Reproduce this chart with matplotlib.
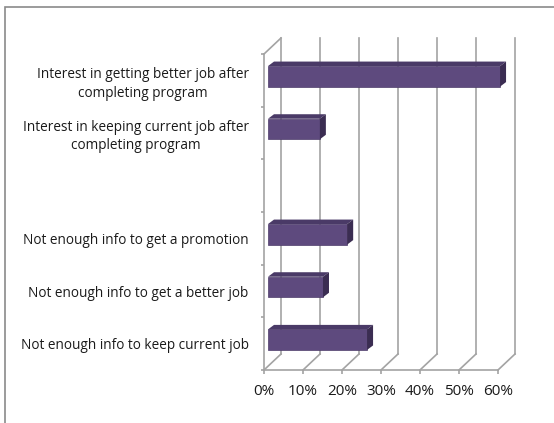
import numpy as np
import matplotlib
matplotlib.use("Agg")
from matplotlib import pyplot as plt
from matplotlib.patches import Polygon, Rectangle

plt.rcParams["font.family"] = ["Open Sans", "DejaVu Sans"]

# categories listed top to bottom, blank row kept as a spacer
categories = [
    "Interest in getting better job after\ncompleting program",
    "Interest in keeping current job after\ncompleting program",
    "",
    "Not enough info to get a promotion",
    "Not enough info to get a better job",
    "Not enough info to keep current job",
]
shares = [59.5, 13.3, np.nan, 20.3, 14.1, 25.4]
x_ticks = [0, 10, 20, 30, 40, 50, 60]
x_tick_labels = [f"{t}%" for t in x_ticks]

grid_col = "#a3a3a3"
front_col = "#5e4a7e"
top_col = "#4a3a67"
side_col = "#3b2d52"

W, H = 554, 423
fig = plt.figure(figsize=(W / 100, H / 100), dpi=100)

# front plane of the plot area, in pixels
left, right, top, bottom = 264, 498, 54, 370
ax = fig.add_axes([left / W, 1 - bottom / H, (right - left) / W, (bottom - top) / H])
n = len(categories)
ax.set_xlim(0, 60)
ax.set_ylim(-0.5, n - 0.5)

px_x = (right - left) / 60.0
px_y = (bottom - top) / n

def depth(dx_px, dy_px):
    return dx_px / px_x, dy_px / px_y

# wall / floor depth
wdx, wdy = depth(17, 16)
lw = 1.2
for t in x_ticks:
    ax.plot([t + wdx, t + wdx], [-0.5 + wdy, n - 0.5 + wdy], color=grid_col, lw=lw,
            clip_on=False, zorder=1)
    ax.plot([t, t + wdx], [-0.5, -0.5 + wdy], color=grid_col, lw=lw, clip_on=False, zorder=1)
ax.plot([0, wdx], [n - 0.5, n - 0.5 + wdy], color=grid_col, lw=lw, clip_on=False, zorder=1)

# 3d bars: front face set back into the depth, then top and side faces
fdx, fdy = depth(4, 4)
bdx, bdy = depth(6, 4.5)
bh = 0.39
ypos = np.arange(n)[::-1]
for y, v in zip(ypos, shares):
    if np.isnan(v):
        continue
    x0, x1 = fdx, v + fdx
    y0, y1 = y + fdy - bh / 2, y + fdy + bh / 2
    ax.barh(y + fdy, v, left=fdx, height=bh, color=front_col, edgecolor="#4d3c6a",
            linewidth=0.5, zorder=3, clip_on=False)
    ax.add_patch(Polygon([(x0, y1), (x1, y1), (x1 + bdx, y1 + bdy), (x0 + bdx, y1 + bdy)],
                         closed=True, facecolor=top_col, edgecolor="none", zorder=3,
                         clip_on=False))
    ax.add_patch(Polygon([(x1, y0), (x1, y1), (x1 + bdx, y1 + bdy), (x1 + bdx, y0 + bdy)],
                         closed=True, facecolor=side_col, edgecolor="none", zorder=3,
                         clip_on=False))

for s in ["top", "right"]:
    ax.spines[s].set_visible(False)
for s in ["left", "bottom"]:
    ax.spines[s].set_color(grid_col)
    ax.spines[s].set_linewidth(lw)
ax.set_facecolor("none")

ax.set_xticks(x_ticks)
ax.set_xticklabels(x_tick_labels, fontsize=11, color="#1a1a1a")
ax.tick_params(axis="x", length=3, width=lw, color=grid_col, pad=7)

ax.set_yticks(np.arange(-0.5, n, 1.0))
ax.set_yticklabels([])
ax.tick_params(axis="y", which="major", length=2.5, width=lw, color=grid_col)
ax.set_yticks(ypos, minor=True)
ax.set_yticklabels(categories, minor=True, fontsize=9.8, color="#1a1a1a",
                   multialignment="center", linespacing=1.3)
ax.tick_params(axis="y", which="minor", length=0, pad=11)

# chart border, clipped by the image edges on the right and bottom
fig.add_artist(Rectangle((4.5 / W, -0.5), 2, 1.5 - 7.5 / H, transform=fig.transFigure,
                         facecolor="none", edgecolor="#8a8a8a", lw=1.2))

fig.savefig("out.png", dpi=100, facecolor="white")
